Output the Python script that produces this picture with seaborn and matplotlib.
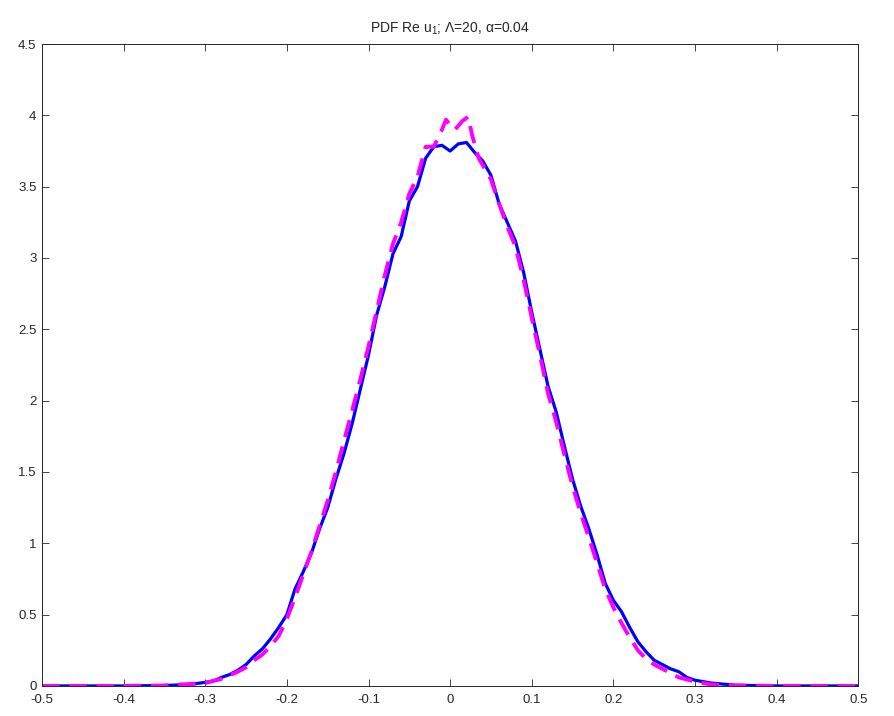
import numpy as np
import pandas as pd
import seaborn as sns
from matplotlib import pyplot as plt
from matplotlib.ticker import FuncFormatter

# blue solid curve
x_blue = [-0.5, -0.4, -0.35, -0.32, -0.30, -0.29, -0.28, -0.27, -0.26, -0.25, -0.24, -0.23,
          -0.22, -0.21, -0.20, -0.19, -0.18, -0.17, -0.16, -0.15, -0.14, -0.13, -0.12, -0.11,
          -0.10, -0.09, -0.08, -0.07, -0.06, -0.05, -0.04, -0.03, -0.02, -0.01, 0.00, 0.01,
          0.02, 0.03, 0.04, 0.05, 0.06, 0.07, 0.08, 0.09, 0.10, 0.11, 0.12, 0.13, 0.14, 0.15,
          0.16, 0.17, 0.18, 0.19, 0.20, 0.21, 0.22, 0.23, 0.24, 0.25, 0.26, 0.27, 0.28, 0.29,
          0.30, 0.32, 0.35, 0.40, 0.5]
y_blue = [0, 0, 0.003, 0.01, 0.025, 0.035, 0.06, 0.08, 0.11, 0.15, 0.21, 0.26,
          0.33, 0.41, 0.50, 0.68, 0.80, 0.93, 1.10, 1.25, 1.45, 1.63, 1.84, 2.08,
          2.32, 2.60, 2.80, 3.03, 3.15, 3.40, 3.50, 3.70, 3.78, 3.79, 3.75, 3.80,
          3.81, 3.74, 3.68, 3.58, 3.38, 3.25, 3.12, 2.90, 2.62, 2.36, 2.10, 1.92, 1.68, 1.45,
          1.26, 1.10, 0.92, 0.72, 0.60, 0.52, 0.41, 0.31, 0.24, 0.18, 0.15, 0.12, 0.10, 0.06,
          0.04, 0.02, 0.005, 0, 0]

# magenta dashed curve
x_mag = [-0.5, -0.4, -0.35, -0.30, -0.28, -0.26, -0.25, -0.24, -0.23, -0.22, -0.21, -0.20,
         -0.19, -0.18, -0.17, -0.16, -0.15, -0.14, -0.13, -0.12, -0.11, -0.10, -0.09, -0.08,
         -0.07, -0.06, -0.05, -0.04, -0.03, -0.02, -0.01, -0.005, 0.0, 0.006, 0.015, 0.022,
         0.027, 0.035, 0.04, 0.05, 0.06, 0.07, 0.08, 0.09, 0.10, 0.11, 0.12, 0.13, 0.14, 0.15,
         0.16, 0.17, 0.18, 0.19, 0.20, 0.21, 0.22, 0.23, 0.24, 0.25, 0.26, 0.27, 0.28, 0.30,
         0.32, 0.35, 0.4, 0.5]
y_mag = [0, 0, 0.003, 0.02, 0.05, 0.10, 0.13, 0.18, 0.22, 0.28, 0.35, 0.47,
         0.62, 0.78, 0.94, 1.12, 1.30, 1.50, 1.72, 1.93, 2.15, 2.38, 2.63, 2.88,
         3.10, 3.25, 3.45, 3.57, 3.78, 3.78, 3.90, 3.97, 3.93, 3.90, 3.96, 3.99,
         3.86, 3.70, 3.65, 3.55, 3.38, 3.22, 3.08, 2.85, 2.58, 2.32, 2.05, 1.85, 1.62, 1.40,
         1.21, 1.04, 0.86, 0.68, 0.55, 0.44, 0.34, 0.25, 0.19, 0.15, 0.12, 0.09, 0.06, 0.03,
         0.01, 0.003, 0, 0]

sns.set_style("ticks")
plt.rcParams['font.family'] = ['Liberation Sans', 'DejaVu Sans']
plt.rcParams['mathtext.default'] = 'regular'

fig = plt.figure(figsize=(8.94, 7.16), dpi=100)
ax = fig.add_axes([0.047, 0.042, 0.913, 0.8965])

sns.lineplot(x=x_blue, y=y_blue, color="#0000ff", linewidth=2.3, ax=ax)
sns.lineplot(x=x_mag, y=y_mag, color="#ff00ff", linewidth=2.8, ax=ax)
ax.lines[-1].set_dashes([4.5, 2.5])

ax.set_xlim(-0.5, 0.5)
ax.set_ylim(0, 4.5)
ax.set_xticks(np.round(np.arange(-0.5, 0.51, 0.1), 1))
ax.set_yticks(np.round(np.arange(0, 4.51, 0.5), 1))
fmt = FuncFormatter(lambda v, pos: "%g" % (round(v, 2) + 0.0))
ax.xaxis.set_major_formatter(fmt)
ax.yaxis.set_major_formatter(fmt)
ax.tick_params(direction='in', top=True, right=True, labelsize=9.5, length=5, width=0.6)
ax.tick_params(axis='x', pad=6)
ax.tick_params(axis='y', pad=4)
for s in ax.spines.values():
    s.set_visible(True)
    s.set_linewidth(0.7)
ax.set_title("PDF Re u$_1$; Λ=20, α=0.04", fontsize=10, pad=8)

fig.savefig("out.png", dpi=100)
